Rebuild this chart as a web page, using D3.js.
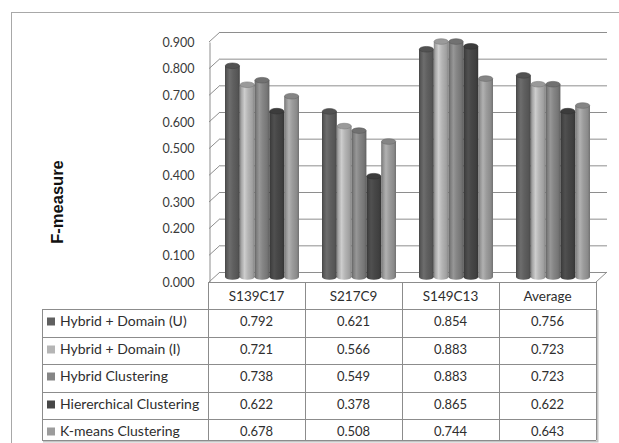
<!DOCTYPE html>
<html>
<head>
<meta charset="utf-8">
<script src="https://cdn.jsdelivr.net/npm/d3@7/dist/d3.min.js"></script>
<style>
  html, body { margin: 0; padding: 0; background: #fff; }
  svg { display: block; }
</style>
</head>
<body>
<svg id="chart" width="619" height="443"></svg>
<script>
// F-measure per data set, one array per clustering method
const categories = ["S139C17", "S217C9", "S149C13", "Average"];
const seriesNames = [
  "Hybrid + Domain (U)",
  "Hybrid + Domain (I)",
  "Hybrid Clustering",
  "Hiererchical Clustering",
  "K-means Clustering"
];
const hybridDomainU = [0.792, 0.621, 0.854, 0.756];
const hybridDomainI = [0.721, 0.566, 0.883, 0.723];
const hybridClustering = [0.738, 0.549, 0.883, 0.723];
const hierarchical = [0.622, 0.378, 0.865, 0.622];
const kmeans = [0.678, 0.508, 0.744, 0.643];
const yTicks = [0, 0.1, 0.2, 0.3, 0.4, 0.5, 0.6, 0.7, 0.8, 0.9];
const yTitle = "F-measure";

const seriesValues = [hybridDomainU, hybridDomainI, hybridClustering, hierarchical, kmeans];
const seriesColors = ["#606060", "#b5b5b5", "#858585", "#474747", "#9c9c9c"];

const svg = d3.select("#chart");
const defs = svg.append("defs");

// Layout of the 3-D box: front plane and the depth offset of the back wall
const front = { left: 209, right: 596, top: 42, bottom: 282 };
const depth = { dx: 11, dy: -10 };
const tableLeft = 42;
const headerH = 27;
const rowH = 27.6;
const tableBottom = 440;

// outer chart frame
svg.append("rect")
  .attr("x", 11.5).attr("y", 12.5)
  .attr("width", 700).attr("height", 500)
  .attr("fill", "none").attr("stroke", "#a8a8a8");

const y = d3.scaleLinear().domain([0, 0.9]).range([front.bottom, front.top]);
const x = d3.scaleBand().domain(categories).range([208, front.right]);
const groupW = 74;
const inner = d3.scaleBand().domain(d3.range(seriesNames.length)).range([0, groupW]);

const gridColor = "#8e8e8e";

// back wall gridlines
svg.append("g").selectAll("line").data(yTicks).join("line")
  .attr("x1", front.left + depth.dx).attr("x2", front.right + depth.dx)
  .attr("y1", d => y(d) + depth.dy + 0.5).attr("y2", d => y(d) + depth.dy + 0.5)
  .attr("stroke", gridColor).attr("stroke-width", 1);

// side wall diagonals
svg.append("g").selectAll("line").data(yTicks).join("line")
  .attr("x1", front.left).attr("y1", d => y(d))
  .attr("x2", front.left + depth.dx).attr("y2", d => y(d) + depth.dy)
  .attr("stroke", gridColor).attr("stroke-width", 1);

// floor right edge
svg.append("line")
  .attr("x1", front.right).attr("y1", front.bottom)
  .attr("x2", front.right + depth.dx).attr("y2", front.bottom + depth.dy)
  .attr("stroke", gridColor);

// value axis on the front edge of the side wall
const yAxis = d3.axisLeft(y)
  .tickValues(yTicks)
  .tickFormat(d3.format(".3f"))
  .tickSize(0)
  .tickPadding(15);
const axG = svg.append("g")
  .attr("transform", `translate(${front.left + 0.5},0)`)
  .call(yAxis);
axG.select(".domain").attr("stroke", gridColor);
axG.selectAll("text")
  .attr("font-family", "Lato, 'Open Sans', sans-serif")
  .attr("font-size", 12.5)
  .attr("fill", "#3a3a3a");

// axis title
svg.append("text")
  .attr("transform", "translate(63,202) rotate(-90)")
  .attr("text-anchor", "middle")
  .attr("font-family", "'Liberation Sans', Arial, sans-serif")
  .attr("font-weight", "bold")
  .attr("font-size", 16.5)
  .attr("fill", "#111")
  .text(yTitle);

// horizontal shading for the cylinders
seriesColors.forEach((c, i) => {
  const base = d3.color(c);
  const g = defs.append("linearGradient")
    .attr("id", "cyl" + i).attr("x1", "0%").attr("x2", "100%").attr("y1", "0%").attr("y2", "0%");
  const stops = [
    [0, base.darker(0.9)],
    [0.12, base.darker(0.2)],
    [0.32, base.brighter(0.35)],
    [0.55, base],
    [0.85, base.darker(0.35)],
    [1, base.darker(0.9)]
  ];
  stops.forEach(([o, col]) => g.append("stop").attr("offset", o).attr("stop-color", col.formatHex()));
});

// bars sit halfway into the depth of the box
const midDx = depth.dx / 2, midDy = depth.dy / 2;
const baseY = y(0) + midDy;
const bw = inner.bandwidth();
const ry = 2.8;

const barsData = [];
categories.forEach((cat, ci) => {
  seriesValues.forEach((vals, si) => {
    barsData.push({ cat, si, v: vals[ci] });
  });
});

const bars = svg.append("g").selectAll("g").data(barsData).join("g")
  .attr("transform", d => `translate(${x(d.cat) + (x.bandwidth() - groupW) / 2 + midDx + inner(d.si)},0)`);

bars.append("ellipse")
  .attr("cx", bw / 2).attr("cy", baseY)
  .attr("rx", bw / 2).attr("ry", ry)
  .attr("fill", d => `url(#cyl${d.si})`);
bars.append("rect")
  .attr("x", 0).attr("width", bw)
  .attr("y", d => y(d.v) + midDy)
  .attr("height", d => baseY - (y(d.v) + midDy))
  .attr("fill", d => `url(#cyl${d.si})`);
bars.append("ellipse")
  .attr("cx", bw / 2).attr("cy", d => y(d.v) + midDy)
  .attr("rx", bw / 2 - 0.3).attr("ry", ry)
  .attr("fill", d => d3.color(seriesColors[d.si]).darker(0.45).formatHex())
  .attr("stroke", d => d3.color(seriesColors[d.si]).darker(1.1).formatHex())
  .attr("stroke-width", 0.6);

// data table below the plot
const tableFont = "Lato, 'Open Sans', sans-serif";
const tableLine = "#8c8c8c";
const textColor = "#2e2e2e";
const tg = svg.append("g");
const rowsTop = front.bottom + headerH;

// shadow on the right and bottom edges
tg.append("path")
  .attr("d", `M${front.right + 1.5},${rowsTop + 1}V${tableBottom + 1.5}H${tableLeft + 1}`)
  .attr("fill", "none").attr("stroke", "#c4c4c4").attr("stroke-width", 2);

// header cells
tg.append("line")
  .attr("x1", 208).attr("x2", front.right).attr("y1", front.bottom + 0.5).attr("y2", front.bottom + 0.5)
  .attr("stroke", tableLine);
const colEdges = categories.map(c => x(c)).concat([front.right]);
tg.selectAll(".vline").data(colEdges).join("line")
  .attr("x1", d => Math.round(d) + 0.5).attr("x2", d => Math.round(d) + 0.5)
  .attr("y1", front.bottom).attr("y2", tableBottom)
  .attr("stroke", tableLine);
tg.selectAll(".hdr").data(categories).join("text")
  .attr("x", d => x(d) + x.bandwidth() / 2)
  .attr("y", front.bottom + 14)
  .attr("dy", "0.35em")
  .attr("text-anchor", "middle")
  .attr("font-family", tableFont).attr("font-size", 13.5).attr("fill", textColor)
  .text(d => d);

// row lines and outer border of the legend column
const rowTops = seriesNames.map((_, i) => Math.round(rowsTop + i * rowH));
tg.selectAll(".hline").data(rowTops).join("line")
  .attr("x1", tableLeft).attr("x2", front.right)
  .attr("y1", d => d + 0.5).attr("y2", d => d + 0.5)
  .attr("stroke", tableLine);
tg.append("line")
  .attr("x1", tableLeft).attr("x2", front.right)
  .attr("y1", tableBottom + 0.5).attr("y2", tableBottom + 0.5)
  .attr("stroke", tableLine);
tg.append("line")
  .attr("x1", tableLeft + 0.5).attr("x2", tableLeft + 0.5)
  .attr("y1", rowsTop).attr("y2", tableBottom)
  .attr("stroke", tableLine);

// legend keys and names
seriesNames.forEach((name, si) => {
  const cy = rowTops[si] + 12.5;
  tg.append("rect")
    .attr("x", 47).attr("y", cy - 4).attr("width", 8).attr("height", 8)
    .attr("fill", seriesColors[si]);
  tg.append("text")
    .attr("x", 60).attr("y", cy).attr("dy", "0.35em")
    .attr("font-family", tableFont).attr("font-size", 14).attr("fill", textColor)
    .text(name);
  categories.forEach((cat, ci) => {
    tg.append("text")
      .attr("x", x(cat) + x.bandwidth() / 2).attr("y", cy).attr("dy", "0.35em")
      .attr("text-anchor", "middle")
      .attr("font-family", tableFont).attr("font-size", 13).attr("fill", textColor)
      .text(d3.format(".3f")(seriesValues[si][ci]));
  });
});
</script>
</body>
</html>
